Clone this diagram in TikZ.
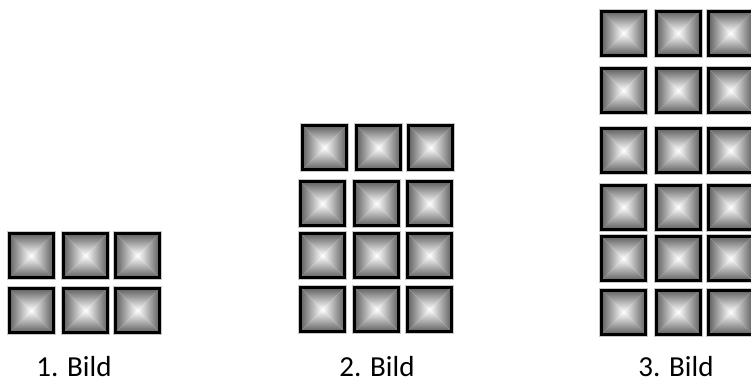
\documentclass[tikz,border=0pt]{standalone}
\usepackage{fontspec}
\setmainfont{Carlito}
\usepackage{tikz}
\definecolor{tile_dark}{HTML}{555555}
\definecolor{tile_halo}{HTML}{C8C8C8}
\newcommand{\pyrtile}[2]{%
    \begin{scope}[shift={(#1, #2)}]
    \shade[top color=tile_dark, bottom color=white] (0, 0) -- (47, 0) -- (23.5, 23.5) -- cycle;
    \shade[top color=white, bottom color=tile_dark] (0, 47) -- (47, 47) -- (23.5, 23.5) -- cycle;
    \shade[left color=tile_dark, right color=white] (0, 0) -- (0, 47) -- (23.5, 23.5) -- cycle;
    \shade[left color=white, right color=tile_dark] (47, 0) -- (47, 47) -- (23.5, 23.5) -- cycle;
    \draw[tile_halo, line width=0.8pt] (-0.4, -0.4) rectangle (47.4, 47.4);
    \draw[black, line width=3pt] (1.5, 1.5) rectangle (45.5, 45.5);
    \end{scope}
}

\begin{document}
\begin{tikzpicture}[
    x=1pt, y=-1pt,
    bildlabel/.style={anchor=base, inner sep=0pt, text depth=0pt,
        font=\fontsize{29}{34}\selectfont}
]
\useasboundingbox (0, 0) rectangle (751, 381);

% ---- 1. Bild: 2 Reihen ----
\pyrtile{7.5}{232}
\pyrtile{62}{232}
\pyrtile{114}{232}
\pyrtile{7.5}{287}
\pyrtile{62}{287}
\pyrtile{114}{287}
\node[bildlabel] (bild1) at (74, 376) {1. Bild};

% ---- 2. Bild: 4 Reihen ----
\pyrtile{301}{124}
\pyrtile{355}{124}
\pyrtile{407}{124}
\pyrtile{299}{180}
\pyrtile{353}{180}
\pyrtile{406}{180}
\pyrtile{299}{232}
\pyrtile{353}{232}
\pyrtile{406}{232}
\pyrtile{299}{286}
\pyrtile{353}{286}
\pyrtile{406}{286}
\node[bildlabel] (bild2) at (377, 376) {2. Bild};

% ---- 3. Bild: 6 Reihen ----
\pyrtile{600}{9.5}
\pyrtile{654.5}{9.5}
\pyrtile{707}{9.5}
\pyrtile{600}{67}
\pyrtile{654.5}{67}
\pyrtile{707}{67}
\pyrtile{600}{127}
\pyrtile{654.5}{127}
\pyrtile{707}{127}
\pyrtile{600}{183.5}
\pyrtile{654.5}{183.5}
\pyrtile{707}{183.5}
\pyrtile{600}{235}
\pyrtile{654.5}{235}
\pyrtile{707}{235}
\pyrtile{600}{288.5}
\pyrtile{654.5}{288.5}
\pyrtile{707}{288.5}
\node[bildlabel] (bild3) at (676, 376) {3. Bild};

\end{tikzpicture}
\end{document}
